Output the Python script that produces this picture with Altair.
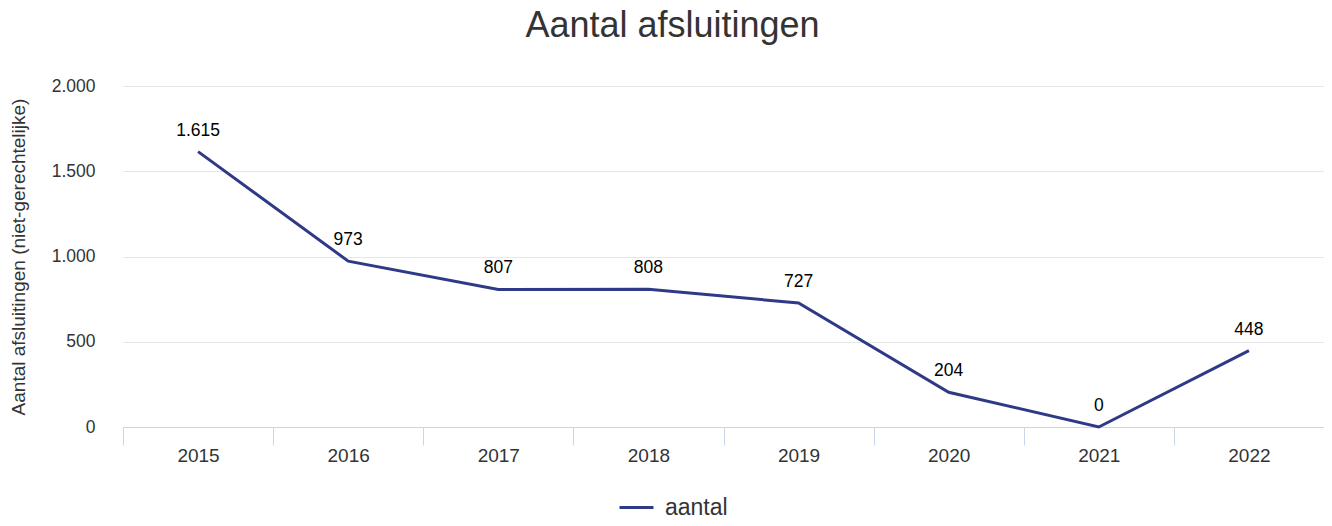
import altair as alt
import pandas as pd

years = ["2015", "2016", "2017", "2018", "2019", "2020", "2021", "2022"]
aantal = [1615, 973, 807, 808, 727, 204, 0, 448]
series = ["aantal"] * len(years)

df = pd.DataFrame({"jaar": years, "aantal": aantal, "serie": series})

LINE = "#2e3a87"
FONT = "Liberation Sans"

x = alt.X("jaar:N", sort=years,
          scale=alt.Scale(type="band", paddingInner=0, paddingOuter=0),
          axis=alt.Axis(title=None, labelAngle=0, tickBand="extent", tickSize=18,
                        tickColor="#ccd6eb", domainColor="#ccd6eb", labelPadding=1,
                        labelFontSize=19, labelColor="#333333", labelFont=FONT,
                        grid=False))
y = alt.Y("aantal:Q", scale=alt.Scale(domain=[0, 2000], nice=False),
          axis=alt.Axis(title="Aantal afsluitingen (niet-gerechtelijke)", values=[0, 500, 1000, 1500, 2000],
                        labelExpr="replace(format(datum.value, ','), ',', '.')",
                        tickSize=0, domain=False, gridColor="#e6e6e6", labelPadding=28,
                        labelFontSize=17.5, labelColor="#333333", labelFont=FONT,
                        titleFontSize=19, titleColor="#333333", titleFont=FONT,
                        titleFontWeight="normal", titlePadding=23))

line = alt.Chart(df).mark_line(strokeWidth=3).encode(
    x=x, y=y,
    color=alt.Color("serie:N", scale=alt.Scale(range=[LINE]),
                    legend=alt.Legend(title=None, orient="none", legendX=495, legendY=403,
                                      symbolType="stroke", symbolSize=1156, symbolStrokeWidth=3,
                                      labelFontSize=23, labelColor="#333333", labelFont=FONT,
                                      labelOffset=10)))

labels = alt.Chart(df).transform_calculate(
    lbl="replace(format(datum.aantal, ','), ',', '.')"
).mark_text(dy=-12, baseline="bottom", fontSize=17.5, font=FONT, color="#000000").encode(
    x=alt.X("jaar:N", sort=years), y="aantal:Q", text="lbl:N")

chart = alt.layer(line, labels).properties(
    width=1201, height=341,
    autosize=alt.AutoSizeParams(type="none"),
    padding={"left": 115, "top": 78, "right": 0, "bottom": 91},
    title=alt.TitleParams("Aantal afsluitingen", fontSize=36, font=FONT, color="#333333",
                          fontWeight="normal", anchor="middle", dx=-51, offset=4,
                          baseline="alphabetic"),
).configure_view(stroke=None)

chart.save("out.html", embed_options={"renderer": "svg", "actions": False})
